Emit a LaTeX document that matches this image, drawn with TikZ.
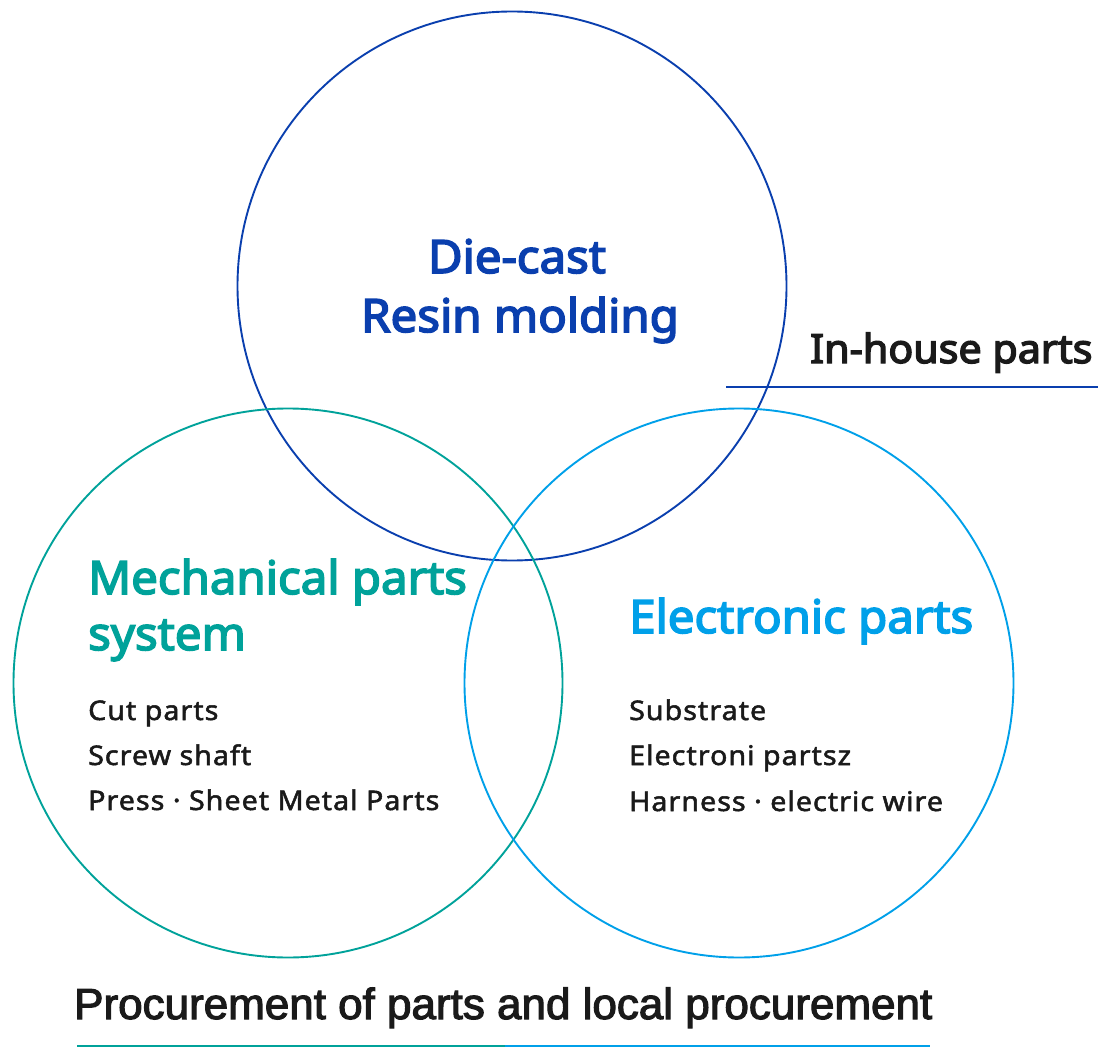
\documentclass[tikz,border=0pt]{standalone}
\usepackage{fontspec}
\setmainfont{Noto Sans}
\newfontfamily\titlefont{Noto Sans}[FakeBold=3.5, FakeStretch=1.03]
\newfontfamily\medfont{Noto Sans}[FakeBold=1.9, FakeStretch=1.06, LetterSpace=3.8]
\newfontfamily\narrowfont{Liberation Sans}[FakeBold=2.6]
\definecolor{dblue}{HTML}{0A3FAE}
\definecolor{teal2}{HTML}{00A29A}
\definecolor{lblue}{HTML}{00A0E9}
\definecolor{ink}{HTML}{1A1A1A}
\tikzset{
  ring/.style={circle, draw, line width=1.9pt, minimum size=549pt, inner sep=0pt},
  title/.style={inner sep=0pt, font=\fontsize{46}{54}\titlefont},
  item/.style={inner sep=0pt, anchor=base west, text=ink, font=\fontsize{27}{32}\medfont},
  rule/.style={line width=1.9pt}
}
\begin{document}
\begin{tikzpicture}[x=1pt,y=-1pt]
\useasboundingbox (0,0) rectangle (1108,1056);
\node[ring, dblue] (top) at (512,286) {};
\node[ring, teal2] (left) at (288,683) {};
\node[ring, lblue] (right) at (739,683) {};
% top circle text
\node[title, text=dblue, anchor=base] (dc) at (517,273) {Die-cast};
\node[title, text=dblue, anchor=base] (rm) at (520,332) {Resin molding};
% in-house
\node[inner sep=0pt, anchor=base west, text=ink, font=\fontsize{40}{48}\titlefont] (ih) at (810,363) {In-house parts};
\coordinate (ihL) at (726,387);
\coordinate (ihR) at (1098,387);
\draw[rule, dblue] (ihL) -- (ihR);
% mechanical
\node[title, text=teal2, anchor=base west] (mp1) at (88,594) {Mechanical parts};
\node[title, text=teal2, anchor=base west] (mp2) at (88,650) {system};
\node[item] (m1) at (88,720) {Cut parts};
\node[item] (m2) at (88,765) {Screw shaft};
\node[item] (m3) at (88,810) {Press · Sheet Metal Parts};
% electronic
\node[title, text=lblue, anchor=base west] (ep) at (629,633) {Electronic parts};
\node[item] (e1) at (629,720) {Substrate};
\node[item] (e2) at (629,765) {Electroni partsz};
\node[item] (e3) at (629,811) {Harness · electric wire};
% bottom
\node[inner sep=0pt, anchor=base west, text=ink] (pr) at (74,1019) {\resizebox{858pt}{31.5pt}{\narrowfont Procurement of parts and local procurement}};
\coordinate (bL) at (77,1046);
\coordinate (bM) at (505,1046);
\coordinate (bR) at (930,1046);
\draw[rule, teal2] (bL) -- (bM);
\draw[rule, lblue] (bM) -- (bR);
\end{tikzpicture}
\end{document}
